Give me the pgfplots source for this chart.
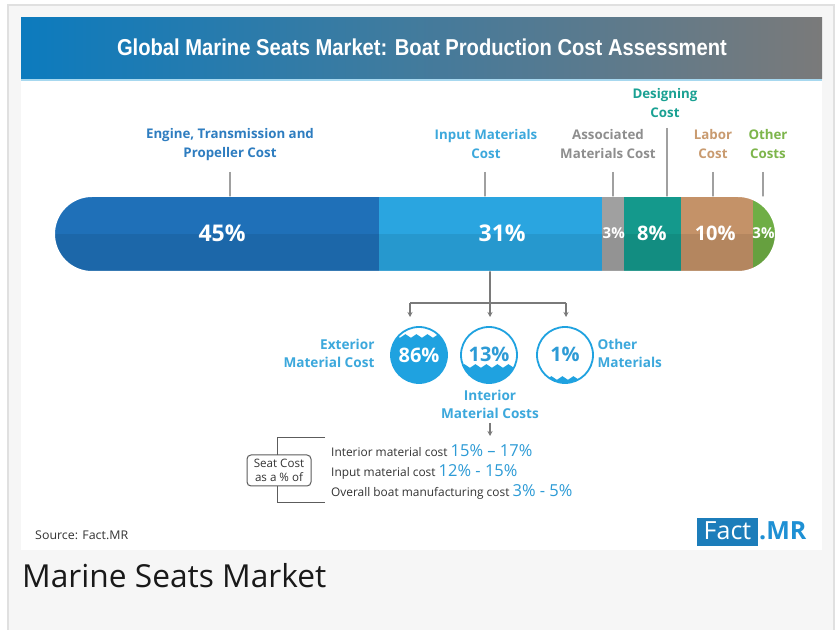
\documentclass[border=0pt]{standalone}
\usepackage{pgfplots}
\pgfplotsset{compat=1.18}
\usepackage{graphicx}
\usepackage{fontspec}
\setmainfont{Open Sans}
\newfontfamily\titlefont{Liberation Sans}
\usetikzlibrary{arrows.meta,decorations.pathmorphing}
\newcommand{\fs}[2]{\fontsize{#1bp}{#2bp}\selectfont}
\definecolor{cF}{HTML}{1F70B8}
\definecolor{cT}{HTML}{2AA5E0}
\definecolor{cG}{HTML}{A0A0A0}
\definecolor{cD}{HTML}{14998C}
\definecolor{cL}{HTML}{C49268}
\definecolor{cO}{HTML}{6FAE45}
\definecolor{lEng}{HTML}{2E7DC0}
\definecolor{lIn}{HTML}{3CA8DC}
\definecolor{lAs}{HTML}{8E8E8E}
\definecolor{lDe}{HTML}{1AA193}
\definecolor{lLa}{HTML}{C99B70}
\definecolor{lOt}{HTML}{7DB54B}
\definecolor{cblue}{HTML}{1FA2E0}
\definecolor{cnum}{HTML}{2D9BD6}
\definecolor{panel}{HTML}{F6F6F6}
\definecolor{border}{HTML}{E0E0E0}
\definecolor{lead}{HTML}{A0A0A0}
\definecolor{arr}{HTML}{7A7A7A}
\definecolor{dark}{HTML}{333333}
\definecolor{logob}{HTML}{1C7DBA}
\definecolor{logot}{HTML}{1E90D4}
\definecolor{bannerL}{HTML}{0C7BBE}
\definecolor{bannerM}{HTML}{3B7E9E}
\definecolor{bannerR}{HTML}{7A7A7A}
\pgfplotsset{canvas/.style={at={(0,0)}, anchor=south west, scale only axis,
  width=836bp, height=630bp, ymin=0, ymax=630, y dir=reverse, hide axis, clip=false}}
\begin{document}
\begin{tikzpicture}
% ---------- decorations, labels, circles (pixel coordinates)
\begin{axis}[canvas, xmin=0, xmax=836]
\fill[white] (axis cs:0,0) rectangle (axis cs:836,630);
\fill[panel] (axis cs:8,5) rectangle (axis cs:834,630);
\draw[border, line width=2bp] (axis cs:8,630) -- (axis cs:8,5) -- (axis cs:834,5) -- (axis cs:834,630);
\fill[white] (axis cs:21,18) rectangle (axis cs:822,550);
\shade[left color=bannerL, middle color=bannerM, right color=bannerR] (axis cs:21,18) rectangle (axis cs:822,79);
\draw[lIn!45, line width=1.5bp] (axis cs:21,80) -- (axis cs:822,80);
\node[text=white, inner sep=0] at (axis cs:422,47) {\resizebox{610bp}{\height}{\titlefont\bfseries\fs{23}{23}Global Marine Seats Market: Boat Production Cost Assessment}};
% labels above the bar
\node[align=center, text=lEng, font=\bfseries\fs{13.3}{19}] at (axis cs:230,144.5) {Engine, Transmission and\\Propeller Cost};
\node[align=center, text=lIn, font=\bfseries\fs{13.3}{19}] at (axis cs:486,144.5) {Input Materials\\Cost};
\node[align=center, text=lAs, font=\bfseries\fs{13.3}{19}] at (axis cs:608,144.5) {Associated\\Materials Cost};
\node[align=center, text=lDe, font=\bfseries\fs{13.3}{19}] at (axis cs:665,103.5) {Designing\\Cost};
\node[align=center, text=lLa, font=\bfseries\fs{13.3}{19}] at (axis cs:713,144.5) {Labor\\Cost};
\node[align=center, text=lOt, font=\bfseries\fs{13.3}{19}] at (axis cs:768,144.5) {Other\\Costs};
\draw[lead, line width=1.3bp] (axis cs:230,172) -- (axis cs:230,197);
\draw[lead, line width=1.3bp] (axis cs:485,172) -- (axis cs:485,197);
\draw[lead, line width=1.3bp] (axis cs:613,172) -- (axis cs:613,197);
\draw[lead, line width=1.3bp] (axis cs:667,128) -- (axis cs:667,197);
\draw[lead, line width=1.3bp] (axis cs:713,172) -- (axis cs:713,197);
\draw[lead, line width=1.3bp] (axis cs:763,172) -- (axis cs:763,203);
% tree of arrows
\draw[arr, line width=1.2bp] (axis cs:490,271) -- (axis cs:490,303);
\draw[arr, line width=1.2bp] (axis cs:410,303) -- (axis cs:566,303);
\draw[arr, line width=1.2bp, -{Stealth[length=5bp,width=5bp]}] (axis cs:410,303) -- (axis cs:410,317);
\draw[arr, line width=1.2bp, -{Stealth[length=5bp,width=5bp]}] (axis cs:490,303) -- (axis cs:490,317);
\draw[arr, line width=1.2bp, -{Stealth[length=5bp,width=5bp]}] (axis cs:566,303) -- (axis cs:566,317);
% circles
\begin{scope}
\clip (axis cs:419,355) circle[radius=28bp];
\fill[cblue, decorate, decoration={snake, amplitude=1.8bp, segment length=11bp}] (axis cs:380,336) -- (axis cs:460,336) -- (axis cs:460,400) -- (axis cs:380,400) -- cycle;
\end{scope}
\draw[cblue, line width=1.8bp] (axis cs:419,355) circle[radius=28bp];
\begin{scope}
\clip (axis cs:489,355) circle[radius=28bp];
\fill[cblue, decorate, decoration={snake, amplitude=1.8bp, segment length=11bp}] (axis cs:450,366) -- (axis cs:530,366) -- (axis cs:530,420) -- (axis cs:450,420) -- cycle;
\end{scope}
\draw[cblue, line width=1.8bp] (axis cs:489,355) circle[radius=28bp];
\begin{scope}
\clip (axis cs:565,355) circle[radius=28bp];
\fill[cblue, decorate, decoration={snake, amplitude=1.8bp, segment length=11bp}] (axis cs:526,378) -- (axis cs:606,378) -- (axis cs:606,420) -- (axis cs:526,420) -- cycle;
\end{scope}
\draw[cblue, line width=1.8bp] (axis cs:565,355) circle[radius=28bp];
\node[text=white, font=\bfseries\fs{20}{22}] at (axis cs:419,355) {86\%};
\node[text=cnum, font=\bfseries\fs{20}{22}] at (axis cs:489,354) {13\%};
\node[text=cnum, font=\bfseries\fs{20}{22}] at (axis cs:565,354) {1\%};
\node[anchor=east, align=right, text=lIn, font=\bfseries\fs{13.6}{17.5}] at (axis cs:378,353.5) {Exterior\\Material Cost};
\node[anchor=west, align=left, text=lIn, font=\bfseries\fs{13.6}{17.5}] at (axis cs:594,353.5) {Other\\Materials};
\node[align=center, text=lIn, font=\bfseries\fs{13.6}{18}] at (axis cs:490,404) {Interior\\Material Costs};
\draw[arr, line width=1.2bp, -{Stealth[length=5bp,width=5bp]}] (axis cs:490,423) -- (axis cs:490,436);
% seat cost bracket
\draw[dark!80, line width=1bp] (axis cs:325,438) -- (axis cs:277,438) -- (axis cs:277,455);
\draw[dark!80, line width=1bp] (axis cs:277,486) -- (axis cs:277,503) -- (axis cs:325,503);
\draw[dark!80, line width=1bp, rounded corners=4bp] (axis cs:247,455) rectangle (axis cs:311,486);
\node[align=center, text=dark, font=\fs{11.6}{14}] at (axis cs:279,470.5) {Seat Cost\\as a \% of};
\node[anchor=base west, inner sep=0, text=dark] at (axis cs:331,457) {\fs{11.9}{13}Interior material cost \textcolor{cnum}{\fs{16.5}{18}15\% -- 17\%}};
\node[anchor=base west, inner sep=0, text=dark] at (axis cs:331,477) {\fs{11.9}{13}Input material cost \textcolor{cnum}{\fs{16.5}{18}12\% - 15\%}};
\node[anchor=base west, inner sep=0, text=dark] at (axis cs:331,497) {\fs{11.9}{13}Overall boat manufacturing cost \textcolor{cnum}{\fs{16.5}{18}3\% - 5\%}};
% footer
\node[anchor=base west, inner sep=0, text=dark] at (axis cs:35,540) {\resizebox{93bp}{\height}{\fs{12}{14}Source: Fact.MR}};
\fill[logob] (axis cs:697,518) rectangle (axis cs:758,546);
\node[text=white, inner sep=0, font=\fs{25}{26}] at (axis cs:727.5,531) {Fact};
\node[anchor=west, inner sep=0, text=logot, font=\bfseries\fs{25}{26}] at (axis cs:759,531) {.MR};
\node[anchor=base west, inner sep=0, text=black!90] at (axis cs:22,588) {\fs{31.7}{33}Marine Seats Market};
\end{axis}
% ---------- the stacked bar (percent on x)
\begin{axis}[canvas, xmin=-7.638889, xmax=108.472222, xbar stacked, bar width=74, bar shift=0pt]
\addplot[fill=cF, draw=none] coordinates {(45,234)};
\addplot[fill=cT, draw=none] coordinates {(31,234)};
\addplot[fill=cG, draw=none] coordinates {(3,234)};
\addplot[fill=cD, draw=none] coordinates {(8,234)};
\addplot[fill=cL, draw=none] coordinates {(10,234)};
\addplot[fill=cO, draw=none] coordinates {(3,234)};
\end{axis}
% ---------- shading, rounded ends and values on the bar
\begin{axis}[canvas, xmin=-7.638889, xmax=108.472222]
\fill[black, opacity=0.08] (axis cs:0,234) rectangle (axis cs:100,271);
\fill[white, even odd rule] (axis cs:-1,196.5) rectangle (axis cs:101,271.5) [rounded corners=37bp] (axis cs:0,197) rectangle (axis cs:100,271);
\node[text=white, font=\bfseries\fs{23}{24}] at (axis cs:23.2,233) {45\%};
\node[text=white, font=\bfseries\fs{23}{24}] at (axis cs:62.1,233) {31\%};
\node[text=white, font=\bfseries\fs{15}{16}] at (axis cs:77.6,233) {3\%};
\node[text=white, font=\bfseries\fs{20}{22}] at (axis cs:82.9,233) {8\%};
\node[text=white, font=\bfseries\fs{20}{22}] at (axis cs:91.7,233) {10\%};
\node[text=white, font=\bfseries\fs{15}{16}] at (axis cs:98.4,233) {3\%};
\end{axis}
\end{tikzpicture}
\end{document}
